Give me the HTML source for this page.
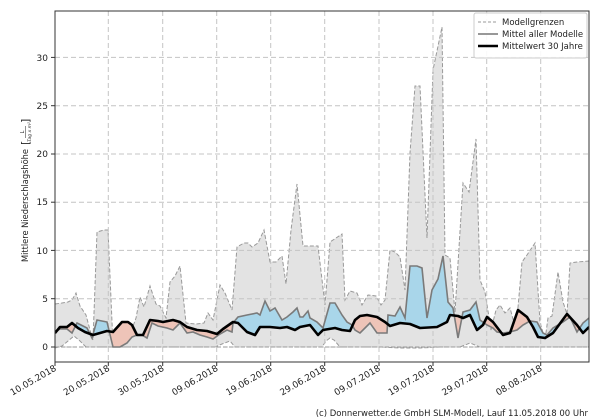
<!DOCTYPE html>
<html><head><meta charset="utf-8"><style>
body{margin:0;background:#fff;width:600px;height:420px;overflow:hidden}
svg{display:block;font-family:"DejaVu Sans","Liberation Sans",sans-serif}
</style></head><body>
<svg width="600" height="420" viewBox="0 0 600 420">
<defs>
<clipPath id="plot"><rect x="55" y="11" width="534" height="351"/></clipPath>
<clipPath id="belowMean"><polygon points="55,332 60,329 67,329 72,333 77,323 87,328 92,338 97,320 107,322 113,347 120,347 127,343 132,337 137,335 142,335 147,338 152,323 158,326 167,328 173,330 180,323 187,333 193,332 200,335 207,337 213,339 220,334 227,330 232,332 233,323 238,317 247,315 257,313 260,315 265,301 270,311 275,308 282,320 287,317 293,312 297,308 300,317 303,317 308,311 310,318 317,322 323,328 330,303 335,303 342,315 347,322 352,325 355,330 360,333 370,323 377,333 387,333 388,315 395,316 400,307 405,318 410,266 417,266 422,268 427,318 432,290 438,279 443,256 448,302 453,308 458,338 463,312 470,310 476,302 480,320 487,325 493,328 497,332 503,333 510,332 517,330 523,325 530,321 537,322 543,333 547,335 553,328 563,322 570,317 577,332 583,323 589,318 589,420 55,420"/></clipPath>
<clipPath id="aboveBlack"><polygon points="55,333 60,327 67,327 72,323 78,328 85,332 93,335 100,333 107,331 113,332 122,322 128,322 132,325 137,335 143,335 150,320 158,321 163,322 173,320 180,322 187,327 197,330 207,331 217,334 223,329 233,322 238,323 247,332 255,335 260,327 270,327 280,328 287,327 295,330 300,327 310,325 318,335 323,330 335,328 342,330 350,331 355,320 360,316 367,315 377,317 385,322 390,326 400,323 410,324 420,328 437,327 447,322 450,315 458,316 463,318 470,315 477,330 483,325 487,317 493,322 503,335 510,333 518,310 527,317 533,327 538,337 545,338 553,333 567,314 577,325 583,333 589,327 589,0 55,0"/></clipPath>
<clipPath id="belowBlack"><polygon points="55,333 60,327 67,327 72,323 78,328 85,332 93,335 100,333 107,331 113,332 122,322 128,322 132,325 137,335 143,335 150,320 158,321 163,322 173,320 180,322 187,327 197,330 207,331 217,334 223,329 233,322 238,323 247,332 255,335 260,327 270,327 280,328 287,327 295,330 300,327 310,325 318,335 323,330 335,328 342,330 350,331 355,320 360,316 367,315 377,317 385,322 390,326 400,323 410,324 420,328 437,327 447,322 450,315 458,316 463,318 470,315 477,330 483,325 487,317 493,322 503,335 510,333 518,310 527,317 533,327 538,337 545,338 553,333 567,314 577,325 583,333 589,327 589,420 55,420"/></clipPath>
<clipPath id="aboveMean"><polygon points="55,332 60,329 67,329 72,333 77,323 87,328 92,338 97,320 107,322 113,347 120,347 127,343 132,337 137,335 142,335 147,338 152,323 158,326 167,328 173,330 180,323 187,333 193,332 200,335 207,337 213,339 220,334 227,330 232,332 233,323 238,317 247,315 257,313 260,315 265,301 270,311 275,308 282,320 287,317 293,312 297,308 300,317 303,317 308,311 310,318 317,322 323,328 330,303 335,303 342,315 347,322 352,325 355,330 360,333 370,323 377,333 387,333 388,315 395,316 400,307 405,318 410,266 417,266 422,268 427,318 432,290 438,279 443,256 448,302 453,308 458,338 463,312 470,310 476,302 480,320 487,325 493,328 497,332 503,333 510,332 517,330 523,325 530,321 537,322 543,333 547,335 553,328 563,322 570,317 577,332 583,323 589,318 589,0 55,0"/></clipPath>
</defs>

<g clip-path="url(#plot)">
<polygon fill="#e3e3e3" stroke="#999" stroke-width="1" stroke-dasharray="4,2" points="55,304 62,303 68,302 72,300 76,293 80,306 86,315 90,330 93,340 97,232 104,230 108,230 113,345 118,345 128,340 136,318 140,297 144,307 150,286 156,304 160,306 166,318 170,282 175,276 180,266 186,323 196,324 204,323 208,313 213,320 220,285 225,293 232,310 237,247 244,243 248,243 252,247 258,243 264,230 270,262 276,262 282,256 286,284 291,230 297,184 303,246 310,246 318,246 325,305 330,242 342,234 345,300 350,291 357,293 362,305 368,295 376,296 381,305 385,300 390,250 395,252 400,257 405,290 410,153 415,86 420,86 427,238 433,70 442,27 445,255 450,258 455,312 463,183 469,192 476,139 480,280 485,292 491,330 496,310 500,305 505,313 510,308 516,330 522,262 527,255 535,243 540,322 545,340 548,318 552,316 558,272 563,302 567,314 570,263 577,262 589,261 589,347 540,347 500,347 480,347 470,343 460,347 440,347 420,348 400,348 380,347 360,347 340,347 334,340 330,338 326,341 322,347 300,347 260,347 240,347 235,347 230,341 222,344 215,347 180,347 140,347 120,347 100,347 86,347 80,341 74,336 68,341 62,346 55,348"/>
<g stroke="#c4c4c4" stroke-width="1" stroke-dasharray="5,3">
<line x1="55" y1="347" x2="589" y2="347"/><line x1="55" y1="298.7" x2="589" y2="298.7"/><line x1="55" y1="250.4" x2="589" y2="250.4"/><line x1="55" y1="202.2" x2="589" y2="202.2"/><line x1="55" y1="154" x2="589" y2="154"/><line x1="55" y1="105.7" x2="589" y2="105.7"/><line x1="55" y1="57.4" x2="589" y2="57.4"/>
<line x1="108.3" y1="11" x2="108.3" y2="362"/><line x1="162.7" y1="11" x2="162.7" y2="362"/><line x1="216.7" y1="11" x2="216.7" y2="362"/><line x1="270.7" y1="11" x2="270.7" y2="362"/><line x1="324.7" y1="11" x2="324.7" y2="362"/><line x1="379" y1="11" x2="379" y2="362"/><line x1="433" y1="11" x2="433" y2="362"/><line x1="486.7" y1="11" x2="486.7" y2="362"/><line x1="540.7" y1="11" x2="540.7" y2="362"/>
</g>
<line x1="55" y1="347" x2="589" y2="347" stroke="#999" stroke-dasharray="4,2"/>
<g clip-path="url(#aboveBlack)"><rect x="0" y="0" width="600" height="420" fill="#a9d6ea" clip-path="url(#belowMean)"/></g>
<g clip-path="url(#belowBlack)"><rect x="0" y="0" width="600" height="420" fill="#eec4b8" clip-path="url(#aboveMean)"/></g>
<polyline fill="none" stroke="#7a7a7a" stroke-width="1.6" points="55,332 60,329 67,329 72,333 77,323 87,328 92,338 97,320 107,322 113,347 120,347 127,343 132,337 137,335 142,335 147,338 152,323 158,326 167,328 173,330 180,323 187,333 193,332 200,335 207,337 213,339 220,334 227,330 232,332 233,323 238,317 247,315 257,313 260,315 265,301 270,311 275,308 282,320 287,317 293,312 297,308 300,317 303,317 308,311 310,318 317,322 323,328 330,303 335,303 342,315 347,322 352,325 355,330 360,333 370,323 377,333 387,333 388,315 395,316 400,307 405,318 410,266 417,266 422,268 427,318 432,290 438,279 443,256 448,302 453,308 458,338 463,312 470,310 476,302 480,320 487,325 493,328 497,332 503,333 510,332 517,330 523,325 530,321 537,322 543,333 547,335 553,328 563,322 570,317 577,332 583,323 589,318"/>
<polyline fill="none" stroke="#000" stroke-width="2.6" stroke-linejoin="round" points="55,333 60,327 67,327 72,323 78,328 85,332 93,335 100,333 107,331 113,332 122,322 128,322 132,325 137,335 143,335 150,320 158,321 163,322 173,320 180,322 187,327 197,330 207,331 217,334 223,329 233,322 238,323 247,332 255,335 260,327 270,327 280,328 287,327 295,330 300,327 310,325 318,335 323,330 335,328 342,330 350,331 355,320 360,316 367,315 377,317 385,322 390,326 400,323 410,324 420,328 437,327 447,322 450,315 458,316 463,318 470,315 477,330 483,325 487,317 493,322 503,335 510,333 518,310 527,317 533,327 538,337 545,338 553,333 567,314 577,325 583,333 589,327"/>
</g>
<rect x="55" y="11" width="534" height="351" fill="none" stroke="#333" stroke-width="1"/>
<g font-size="9" fill="#222" text-anchor="end">
<g stroke="#333"><line x1="51" y1="347" x2="55" y2="347"/><line x1="51" y1="298.7" x2="55" y2="298.7"/><line x1="51" y1="250.4" x2="55" y2="250.4"/><line x1="51" y1="202.2" x2="55" y2="202.2"/><line x1="51" y1="154" x2="55" y2="154"/><line x1="51" y1="105.7" x2="55" y2="105.7"/><line x1="51" y1="57.4" x2="55" y2="57.4"/></g>
<text x="48" y="350">0</text><text x="48" y="302">5</text><text x="48" y="254">10</text><text x="48" y="205">15</text><text x="48" y="157">20</text><text x="48" y="109">25</text><text x="48" y="61">30</text>
</g>
<g stroke="#333"><line x1="55" y1="362" x2="55" y2="366"/><line x1="108.3" y1="362" x2="108.3" y2="366"/><line x1="162.7" y1="362" x2="162.7" y2="366"/><line x1="216.7" y1="362" x2="216.7" y2="366"/><line x1="270.7" y1="362" x2="270.7" y2="366"/><line x1="324.7" y1="362" x2="324.7" y2="366"/><line x1="379" y1="362" x2="379" y2="366"/><line x1="433" y1="362" x2="433" y2="366"/><line x1="486.7" y1="362" x2="486.7" y2="366"/><line x1="540.7" y1="362" x2="540.7" y2="366"/></g>
<g font-size="9" fill="#222" text-anchor="end">
<text transform="translate(57,370) rotate(-30)">10.05.2018</text>
<text transform="translate(110.3,370) rotate(-30)">20.05.2018</text>
<text transform="translate(164.7,370) rotate(-30)">30.05.2018</text>
<text transform="translate(218.7,370) rotate(-30)">09.06.2018</text>
<text transform="translate(272.7,370) rotate(-30)">19.06.2018</text>
<text transform="translate(326.7,370) rotate(-30)">29.06.2018</text>
<text transform="translate(381,370) rotate(-30)">09.07.2018</text>
<text transform="translate(435,370) rotate(-30)">19.07.2018</text>
<text transform="translate(488.7,370) rotate(-30)">29.07.2018</text>
<text transform="translate(542.7,370) rotate(-30)">08.08.2018</text>
</g>
<g transform="translate(28,188) rotate(-90)" fill="#222">
<text x="-74" y="0" font-size="8.5" textLength="113" lengthAdjust="spacingAndGlyphs">Mittlere Niederschlagshöhe</text>
<text x="43" y="1" font-size="11">[</text>
<text x="56" y="-4" font-size="5" text-anchor="middle">L</text>
<line x1="50" y1="-2.5" x2="62" y2="-2.5" stroke="#222" stroke-width="0.5"/>
<text x="56" y="3" font-size="4.5" text-anchor="middle" font-style="italic">Tag x m²</text>
<text x="65" y="1" font-size="11">]</text>
</g>
<rect x="474" y="13" width="113" height="45" fill="#fff" fill-opacity="0.9" stroke="#ccc" rx="2"/>
<line x1="478" y1="22" x2="498" y2="22" stroke="#999" stroke-dasharray="3,2"/>
<line x1="478" y1="34" x2="498" y2="34" stroke="#777" stroke-width="1.6"/>
<line x1="478" y1="46" x2="498" y2="46" stroke="#000" stroke-width="2.6"/>
<g font-size="8.5" fill="#222">
<text x="502" y="25">Modellgrenzen</text>
<text x="502" y="37">Mittel aller Modelle</text>
<text x="502" y="49">Mittelwert 30 Jahre</text>
</g>
<text x="588" y="416" font-size="8.5" fill="#222" text-anchor="end">(c) Donnerwetter.de GmbH SLM-Modell, Lauf 11.05.2018 00 Uhr</text>
</svg>
</body></html>
